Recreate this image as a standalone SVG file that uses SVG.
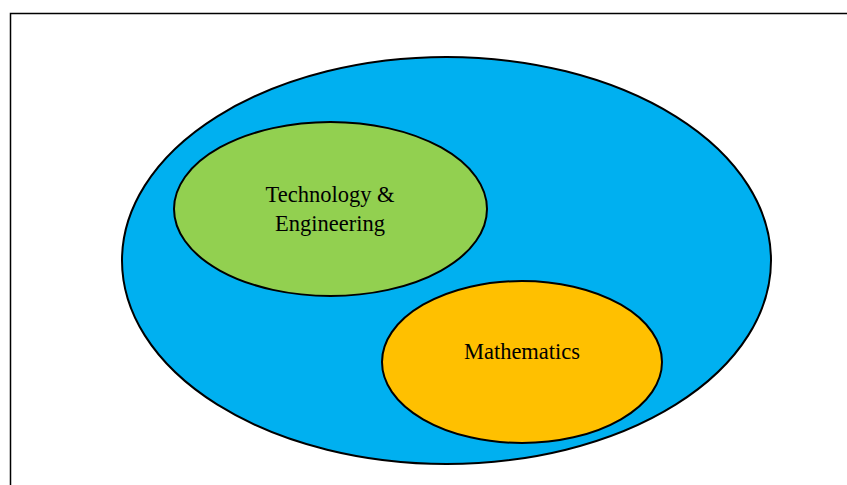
<svg xmlns="http://www.w3.org/2000/svg" width="847" height="485" viewBox="0 0 847 485">
<style>
.e{stroke:#000;stroke-width:2}
.t{font-family:"Liberation Serif","Times New Roman",serif;font-size:22.5px;fill:#000;text-anchor:middle}
</style>
<rect x="0" y="0" width="847" height="485" fill="#fff"/>
<path d="M10.5 485 V13.5 H847" fill="none" stroke="#000" stroke-width="1.5"/>
<g id="science">
<ellipse class="e" cx="446.5" cy="260.5" rx="324.5" ry="203.5" fill="#00B0F0"/>
</g>
<g id="technology">
<ellipse class="e" cx="330.5" cy="209" rx="156.5" ry="87" fill="#92D050"/>
<text class="t" x="330" y="202">Technology &amp;</text>
<text class="t" x="330" y="231">Engineering</text>
</g>
<g id="mathematics">
<ellipse class="e" cx="522" cy="362" rx="140" ry="81" fill="#FFC000"/>
<text class="t" x="522" y="359">Mathematics</text>
</g>
<g id="connectors"></g>
</svg>
